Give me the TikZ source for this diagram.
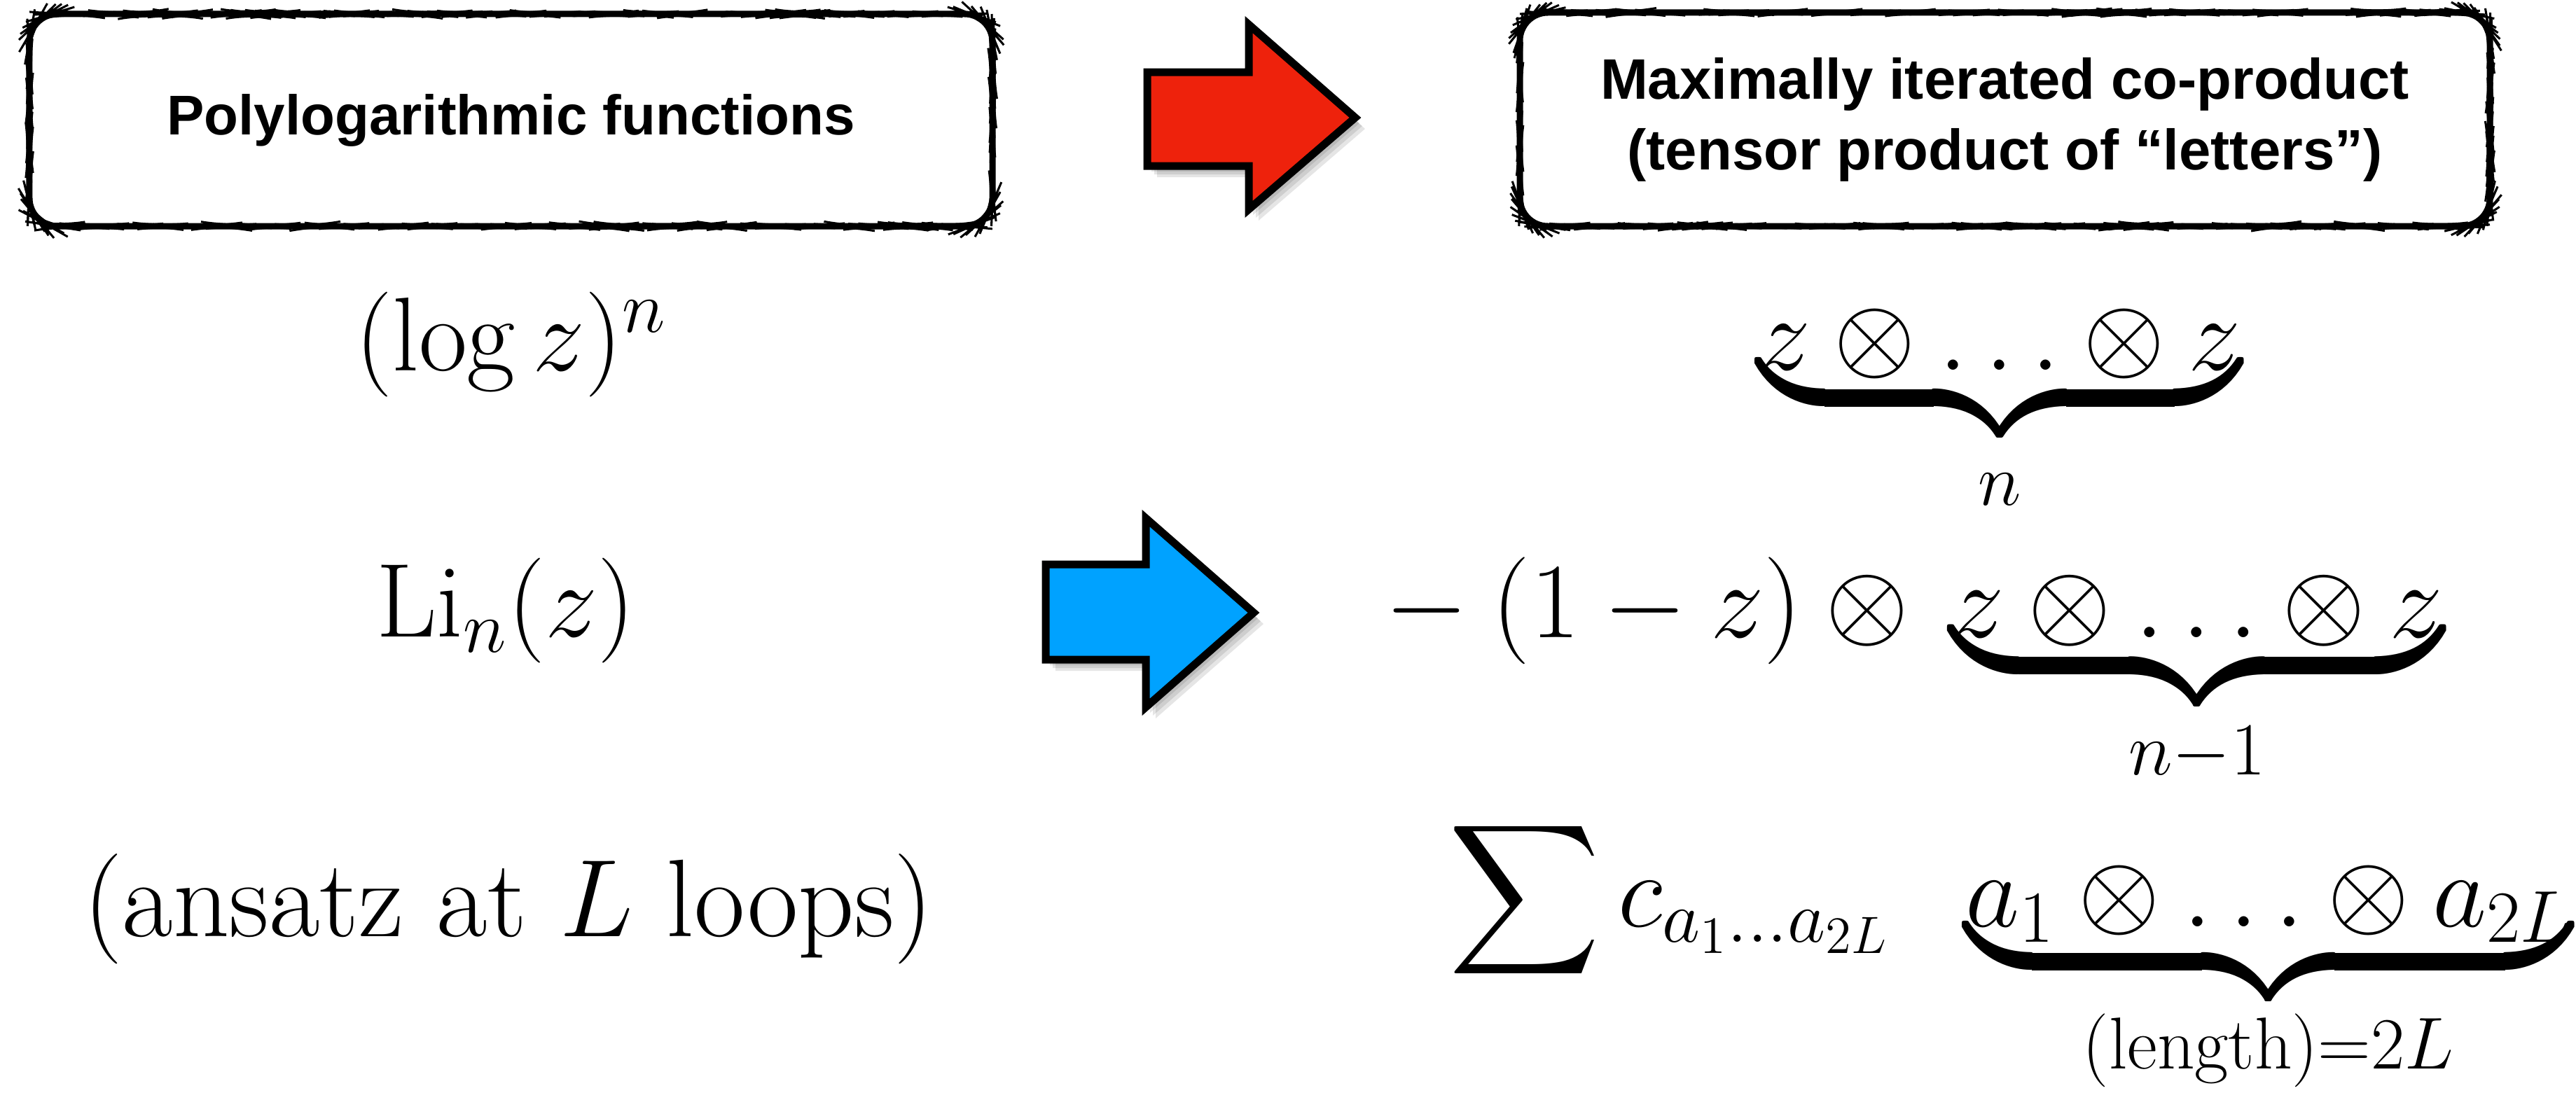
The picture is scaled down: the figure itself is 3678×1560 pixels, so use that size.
\RequirePackage{fix-cm}
\documentclass[tikz,border=0pt]{standalone}
\DeclareFontShape{OMX}{cmex}{m}{n}{<->s*[1.4]cmex10}{}
\DeclareFontFamily{OMX}{cmexd}{}
\DeclareFontShape{OMX}{cmexd}{m}{n}{<->cmex10}{}
\DeclareSymbolFont{dispops}{OMX}{cmexd}{m}{n}
\DeclareMathSymbol{\dsum}{\mathop}{dispops}{"58}
\usepackage{fontspec}
\newfontfamily\hel{Liberation Sans}
\usetikzlibrary{decorations.pathmorphing}
\definecolor{arrred}{HTML}{EE220C}
\definecolor{arrblue}{HTML}{00A2FF}
\tikzset{
  sketchbox/.style={draw=black, line width=1.8pt, rounded corners=8pt, inner sep=0pt, align=center,
    postaction={draw=black, line width=0.6pt, decorate,
      decoration={random steps, segment length=1.4pt, amplitude=0.14pt}}},
  rough/.style={draw=black, line width=0.8pt, decorate,
      decoration={random steps, segment length=1.2pt, amplitude=0.25pt}},
  arrowbody/.style={draw=black, line width=2.2pt, line join=miter},
  shade1/.style={fill=black, opacity=0.10},
  mathtext/.style={inner sep=0pt, anchor=base, font=\fontsize{30pt}{36pt}\selectfont},
  boxtext/.style={font=\hel\bfseries\fontsize{#1}{20.2pt}\selectfont},
}
\begin{document}
\begin{tikzpicture}[x=0.2pt, y=-0.2pt]
\pgfmathsetseed{7}
\useasboundingbox (0,0) rectangle (3678,1560);
% boxes
\node[sketchbox, boxtext=16pt, minimum width=275pt, minimum height=60.6pt] (polybox) at (729.5,171.5) {Polylogarithmic functions};
\node[sketchbox, boxtext=16.3pt, minimum width=277pt, minimum height=61pt] (coprodbox) at (2862.5,170.5) {Maximally iterated co-product\\(tensor product of “letters”)};
% red arrow
\def\redarrow{(1638,103) -- (1783,103) -- (1783,35) -- (1935,168) -- (1783,299) -- (1783,237) -- (1638,237) -- cycle}
\foreach \d in {4,8,12} {
  \fill[shade1, shift={(\d+2,\d+4)}] \redarrow;
}
\filldraw[arrowbody, fill=arrred] \redarrow;
\draw[rough] \redarrow;
% blue arrow
\def\bluearrow{(1493,806) -- (1636,806) -- (1636,740) -- (1790,875) -- (1636,1010) -- (1636,942) -- (1493,942) -- cycle}
\foreach \d in {4,8,12} {
  \fill[shade1, shift={(\d+2,\d+4)}] \bluearrow;
}
\filldraw[arrowbody, fill=arrblue] \bluearrow;
\draw[rough] \bluearrow;
% left column
\node[mathtext] (logn) at (730,529) {$(\log z)^n$};
\node[mathtext] (lin) at (722,909) {$\mathrm{Li}_n(z)$};
\node[mathtext, font=\fontsize{31.5pt}{38pt}\selectfont] (ansatz) at (726,1337) {(ansatz at $L$ loops)};
% right column
\node[mathtext] (zz) at (2855,528) {$\underbrace{z\otimes\ldots\otimes z}_{n}$};
\node[mathtext, anchor=base east, font=\fontsize{30.6pt}{36pt}\selectfont] (lizz) at (3489,910) {$-\mkern4mu(1-z)\otimes\,\underbrace{z\otimes\ldots\otimes z}_{n-1}$};
\node[mathtext, anchor=base east] (sumz) at (3672,1323) {$\dsum c_{a_1\ldots a_{2L}}\;\;\underbrace{a_1\otimes\ldots\otimes a_{2L}}_{(\mathrm{length})=2L}$};
\end{tikzpicture}
\end{document}
